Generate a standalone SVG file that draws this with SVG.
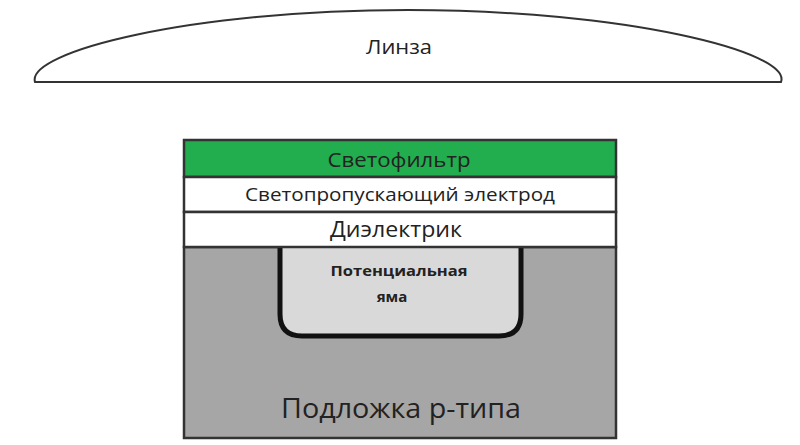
<svg xmlns="http://www.w3.org/2000/svg" width="800" height="445" viewBox="0 0 800 445">
<style>
.t{font-family:"Open Sans","Liberation Sans",sans-serif;fill:#222;text-anchor:middle}
.layer{stroke:#333;stroke-width:2.5}
</style>
<rect width="800" height="445" fill="#fff"/>
<g id="lens">
<path d="M35,82 C26,52 190,10 408,10 C625,10 792,52 781,82 Z" fill="#fff" stroke="#333" stroke-width="2"/>
<text class="t" x="399" y="54" font-size="20" textLength="66" lengthAdjust="spacingAndGlyphs">Линза</text>
</g>
<g id="substrate">
<rect class="layer" x="184" y="247" width="432" height="191" fill="#a6a6a6"/>
<text class="t" x="401" y="418" font-size="27" textLength="240" lengthAdjust="spacingAndGlyphs">Подложка p-типа</text>
</g>
<g id="well">
<path d="M280,246 V314 Q280,336 302,336 H499 Q521,336 521,314 V246" fill="#d9d9d9" stroke="#111" stroke-width="5"/>
<text class="t" x="399" y="276" font-size="15" font-weight="bold" textLength="137" lengthAdjust="spacingAndGlyphs">Потенциальная</text>
<text class="t" x="392" y="302" font-size="15" font-weight="bold">яма</text>
</g>
<g id="filter">
<rect class="layer" x="184" y="140" width="432" height="37" fill="#22ad4f"/>
<text class="t" x="399" y="167" font-size="20" fill="#153d22" textLength="143" lengthAdjust="spacingAndGlyphs">Светофильтр</text>
</g>
<g id="electrode">
<rect class="layer" x="184" y="177" width="432" height="35" fill="#fff"/>
<text class="t" x="400" y="201" font-size="19" textLength="310" lengthAdjust="spacingAndGlyphs">Светопропускающий электрод</text>
</g>
<g id="dielectric">
<rect class="layer" x="184" y="212" width="432" height="35" fill="#fff"/>
<text class="t" x="396" y="237" font-size="21" textLength="132" lengthAdjust="spacingAndGlyphs">Диэлектрик</text>
</g>
</svg>
